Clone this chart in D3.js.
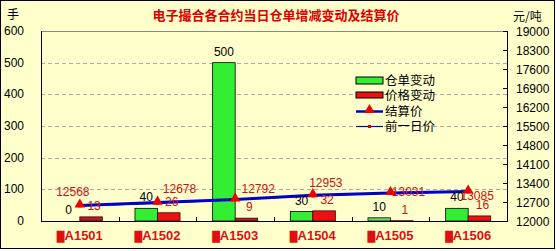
<!DOCTYPE html>
<html>
<head>
<meta charset="utf-8">
<script src="https://cdn.jsdelivr.net/npm/d3@7/dist/d3.min.js"></script>
<style>
  body { margin: 0; background: #fff; }
  text { font-family: "Liberation Sans", Arial, "Noto Sans CJK SC", sans-serif; }
</style>
</head>
<body>
<script>
// contracts
var contracts = ["A1501", "A1502", "A1503", "A1504", "A1505", "A1506"]
// warehouse receipt change (手)
var receiptChange = [0, 40, 500, 30, 10, 40]
var receiptUp = [true, true, true, true, false, true]
// price change
var priceChange = [13, 26, 9, 32, 1, 16]
var priceUp = [false, true, false, true, true, true]
// settlement price and previous day price (元/吨)
var settlePrice = [12568, 12678, 12792, 12953, 13031, 13085]
var prevPrice = [12555, 12652, 12783, 12921, 13030, 13069]
var leftTicks = [0, 100, 200, 300, 400, 500, 600]
var rightTicks = [12000, 12700, 13400, 14100, 14800, 15500, 16200, 16900, 17600, 18300, 19000]

// label nudges for the price labels [dx, dy]
var priceLabelNudge = [[-7, -10], [22, -10], [23, -7], [13, -8], [18, 3], [9, 8]]

var W = 556, H = 251
var m = {left: 41, right: 507, top: 31, bottom: 221}

var svg = d3.select("body").append("svg").attr("width", W).attr("height", H)

svg.append("rect").attr("x", 0.5).attr("y", 0.5).attr("width", 554).attr("height", 248)
  .attr("fill", "#ffffcc").attr("stroke", "#000")

var x = d3.scaleBand().domain(contracts).range([m.left, m.right])
var yL = d3.scaleLinear().domain([0, 600]).range([m.bottom, m.top])
var yR = d3.scaleLinear().domain([12000, 19000]).range([m.bottom, m.top])
var bw = x.bandwidth() * 0.29

// grid
svg.selectAll(".grid").data(leftTicks.filter(d => d > 0 && d < 600)).enter().append("line")
  .attr("x1", m.left).attr("x2", m.right)
  .attr("y1", d => Math.round(yL(d)) + 0.5).attr("y2", d => Math.round(yL(d)) + 0.5)
  .attr("stroke", "#aaa").attr("stroke-dasharray", "4,3")
svg.append("line").attr("x1", m.left).attr("x2", m.right).attr("y1", m.top + 0.5).attr("y2", m.top + 0.5)
  .attr("stroke", "#888")

// bars
var g = svg.append("g")
g.selectAll(".rc").data(receiptChange).enter().append("rect")
  .attr("x", (d, i) => x(contracts[i]) + x.bandwidth() / 2 - bw)
  .attr("y", d => yL(d)).attr("width", bw).attr("height", d => yL(0) - yL(d))
  .attr("fill", (d, i) => receiptUp[i] ? "#33ee33" : "#66dd66")
  .attr("stroke", "#000").attr("stroke-width", 0.8)
g.selectAll(".pc").data(priceChange).enter().append("rect")
  .attr("x", (d, i) => x(contracts[i]) + x.bandwidth() / 2)
  .attr("y", d => yL(d)).attr("width", bw).attr("height", d => yL(0) - yL(d))
  .attr("fill", (d, i) => priceUp[i] ? "#ee1111" : "#b02020")
  .attr("stroke", "#400").attr("stroke-width", 0.8)

// axes lines
svg.append("line").attr("x1", m.left + 0.5).attr("x2", m.left + 0.5).attr("y1", m.top).attr("y2", m.bottom).attr("stroke", "#000")
svg.append("line").attr("x1", m.right + 0.5).attr("x2", m.right + 0.5).attr("y1", m.top).attr("y2", m.bottom).attr("stroke", "#000")
svg.append("line").attr("x1", m.left).attr("x2", m.right + 1).attr("y1", m.bottom + 0.5).attr("y2", m.bottom + 0.5).attr("stroke", "#000")

// x ticks (inside, at band edges)
svg.selectAll(".xt").data(contracts.slice(1)).enter().append("line")
  .attr("x1", d => Math.round(x(d)) + 0.5).attr("x2", d => Math.round(x(d)) + 0.5)
  .attr("y1", m.bottom).attr("y2", m.bottom - 4).attr("stroke", "#000")

// left labels
svg.selectAll(".lt").data(leftTicks).enter().append("text")
  .attr("x", 24).attr("y", d => yL(d) + 4).attr("text-anchor", "end")
  .attr("font-size", 12).text(d => d)

// right ticks & labels
svg.selectAll(".rt").data(rightTicks).enter().append("line")
  .attr("x1", m.right - 4).attr("x2", m.right).attr("y1", d => Math.round(yR(d)) + 0.5).attr("y2", d => Math.round(yR(d)) + 0.5)
  .attr("stroke", "#000")
svg.selectAll(".rl").data(rightTicks).enter().append("text")
  .attr("x", 516).attr("y", d => yR(d) + 4.5).attr("font-size", 12).text(d => d)

// x labels (box glyph + code)
var xl = svg.selectAll(".xl").data(contracts).enter().append("text")
  .attr("x", d => x(d) + x.bandwidth() / 2).attr("y", 240).attr("text-anchor", "middle")
  .attr("font-size", 13).attr("font-weight", "bold").attr("fill", "#e01010")
  .attr("font-family", "'DejaVu Sans Condensed', 'Liberation Sans', sans-serif")
xl.append("tspan").attr("font-size", 10).attr("font-family", "'DejaVu Sans'").text("█")
xl.append("tspan").text(d => d)

// unit labels
svg.append("text").attr("x", 7).attr("y", 19).attr("font-size", 12)
  .style("font-family", "'Noto Sans CJK SC'").text("手")
svg.append("text").attr("x", 513).attr("y", 21).attr("font-size", 12)
  .style("font-family", "'Noto Sans CJK SC'").text("元/吨")

// title
svg.append("text").attr("x", 276).attr("y", 20).attr("text-anchor", "middle")
  .attr("font-size", 13).attr("font-weight", "bold").attr("fill", "#dd0000")
  .style("font-family", "'Noto Sans CJK SC'")
  .text("电子撮合各合约当日仓单增减变动及结算价")

// lines
var cx = i => x(contracts[i]) + x.bandwidth() / 2
var line = d3.line().x((d, i) => cx(i)).y(d => yR(d))
svg.append("path").datum(prevPrice).attr("d", line).attr("fill", "none").attr("stroke", "#0000cc").attr("stroke-width", 1.2)
svg.selectAll(".pp").data(prevPrice).enter().append("rect")
  .attr("x", (d, i) => cx(i) - 1.5).attr("y", d => yR(d) - 1.5).attr("width", 3).attr("height", 3).attr("fill", "#dd0000")
svg.append("path").datum(settlePrice).attr("d", line).attr("fill", "none").attr("stroke", "#0000cc").attr("stroke-width", 3)
var tri = d3.symbol().type(d3.symbolTriangle).size(48)
svg.selectAll(".sp").data(settlePrice).enter().append("path")
  .attr("d", tri).attr("transform", (d, i) => `translate(${cx(i)},${yR(d) - 1})`).attr("fill", "#ee0000")

// data labels
svg.selectAll(".rcl").data(receiptChange).enter().append("text")
  .attr("x", (d, i) => cx(i) - bw / 2).attr("y", d => yL(d) - 7).attr("text-anchor", "middle")
  .attr("font-size", 12).text(d => d)
svg.selectAll(".pcl").data(priceChange).enter().append("text")
  .attr("x", (d, i) => cx(i) + bw / 2 + 3).attr("y", d => yL(d) - 7).attr("text-anchor", "middle")
  .attr("font-size", 12).attr("fill", "#cc1111").text(d => d)
svg.selectAll(".spl").data(settlePrice).enter().append("text")
  .attr("x", (d, i) => cx(i) + priceLabelNudge[i][0]).attr("y", (d, i) => yR(d) + priceLabelNudge[i][1])
  .attr("text-anchor", "middle").attr("font-size", 12).attr("fill", "#cc1111").text(d => d)

// legend
var legend = svg.append("g").attr("transform", "translate(356,0)")
var items = ["仓单变动", "价格变动", "结算价", "前一日价"]
var ly = [80, 95, 111, 126]
legend.append("rect").attr("x", 0).attr("y", 77).attr("width", 27).attr("height", 7).attr("fill", "#33ee33").attr("stroke", "#000")
legend.append("rect").attr("x", 0).attr("y", 92).attr("width", 27).attr("height", 6).attr("fill", "#ee1111").attr("stroke", "#000")
legend.append("line").attr("x1", 0).attr("x2", 27).attr("y1", 111.5).attr("y2", 111.5).attr("stroke", "#0000cc").attr("stroke-width", 2.5)
legend.append("path").attr("d", tri).attr("transform", "translate(13.5,110)").attr("fill", "#ee0000")
legend.append("line").attr("x1", 0).attr("x2", 27).attr("y1", 126.5).attr("y2", 126.5).attr("stroke", "#0000cc").attr("stroke-width", 1.2)
legend.append("rect").attr("x", 12).attr("y", 125).attr("width", 3).attr("height", 3).attr("fill", "#dd0000")
legend.selectAll(".lt").data(items).enter().append("text")
  .attr("x", 29).attr("y", (d, i) => ly[i] + 4.5).attr("font-size", 12.5)
  .style("font-family", "'Noto Sans CJK SC'").text(d => d)
</script>
</body>
</html>
